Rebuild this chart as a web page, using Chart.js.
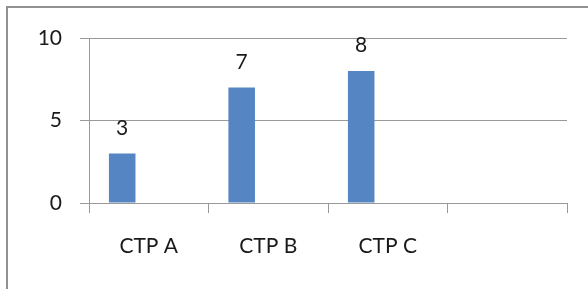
<!DOCTYPE html>
<html>
<head>
<meta charset="utf-8">
<script src="https://cdn.jsdelivr.net/npm/chart.js@4"></script>
<style>
  html, body { margin: 0; padding: 0; background: #fff; }
  #frame {
    position: absolute; left: 6px; top: 6px; width: 600px; height: 300px;
    border-left: 2px solid #919191; border-top: 2px solid #919191;
  }
  #wrap { position: absolute; left: 0; top: 0; width: 588px; height: 289px; }
</style>
</head>
<body>
<div id="frame"></div>
<div id="wrap"><canvas id="chart" width="588" height="289"></canvas></div>
<script>
// categories (4th slot is empty in the original)
const categories = ["CTP A", "CTP B", "CTP C", ""];
// first series has values, the other two series are empty
const series1 = [3, 7, 8, null];
const series2 = [null, null, null, null];
const series3 = [null, null, null, null];
const yTicks = [0, 5, 10];

const FONT = "Lato";
const barColor = "#5585c2";
const gridColor = "#999999";

// draws the value above each bar
const valueLabels = {
  id: "valueLabels",
  afterDatasetsDraw(chart) {
    const ctx = chart.ctx;
    const meta = chart.getDatasetMeta(0);
    ctx.save();
    ctx.font = "21px " + FONT;
    ctx.fillStyle = "#1a1a1a";
    ctx.textAlign = "center";
    ctx.textBaseline = "alphabetic";
    meta.data.forEach((bar, i) => {
      const v = series1[i];
      if (v == null) return;
      ctx.fillText(String(v), bar.x, bar.y - 19);
    });
    ctx.restore();
  }
};

const ctx = document.getElementById("chart").getContext("2d");
const chart = new Chart(ctx, {
  type: "bar",
  data: {
    labels: categories,
    datasets: [
      { label: "Series1", data: series1, backgroundColor: barColor },
      { label: "Series2", data: series2, backgroundColor: barColor },
      { label: "Series3", data: series3, backgroundColor: barColor },
    ],
  },
  options: {
    responsive: false,
    animation: false,
    events: [],
    layout: { padding: { left: 0, right: 21, top: 38, bottom: 0 } },
    datasets: {
      bar: { categoryPercentage: 3 / 4.5, barPercentage: 1 },
    },
    plugins: {
      legend: { display: false },
      tooltip: { enabled: false },
    },
    scales: {
      x: {
        offset: true,
        grid: {
          offset: true,
          drawOnChartArea: false,
          color: gridColor,
          tickLength: 10,
        },
        border: { color: gridColor },
        ticks: {
          padding: 21,
          color: "#1a1a1a",
          font: { family: FONT, size: 21 },
          maxRotation: 0,
        },
        afterFit(scale) { scale.height = 86; },
      },
      y: {
        min: 0,
        max: 10,
        afterBuildTicks(scale) {
          scale.ticks = yTicks.map((v) => ({ value: v }));
        },
        grid: { color: gridColor, tickLength: 9 },
        border: { color: gridColor },
        ticks: {
          padding: 18,
          color: "#1a1a1a",
          font: { family: FONT, size: 21 },
        },
        afterFit(scale) { scale.width = 89; },
      },
    },
  },
  plugins: [valueLabels],
});
</script>
</body>
</html>
